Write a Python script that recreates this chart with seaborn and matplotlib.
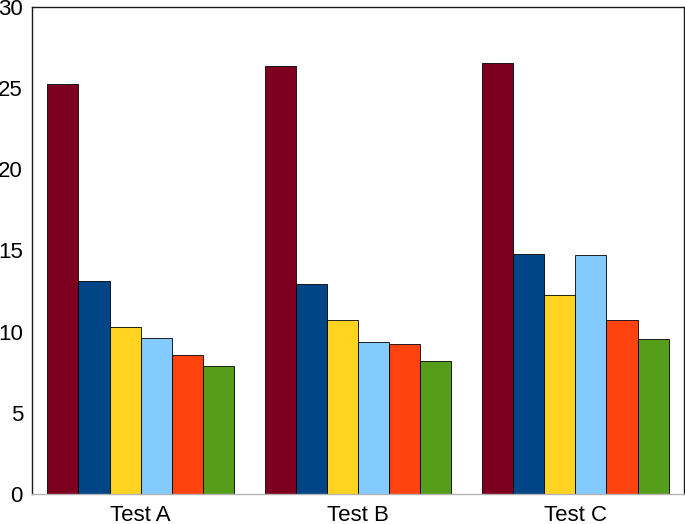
import numpy as np
import pandas as pd
import matplotlib
matplotlib.use("Agg")
import matplotlib.pyplot as plt
import seaborn as sns

# 数据: 三组测试, 每组六个系列
tests = ["Test A", "Test B", "Test C"]
series = ["S1", "S2", "S3", "S4", "S5", "S6"]
test_a = [25.25, 13.1, 10.3, 9.63, 8.58, 7.9]
test_b = [26.35, 12.96, 10.74, 9.38, 9.26, 8.21]
test_c = [26.52, 14.81, 12.28, 14.75, 10.74, 9.57]
colors = ["#7e0021", "#004586", "#ffd320", "#83caff", "#ff420e", "#579d1c"]

rows = []
for t, vals in zip(tests, [test_a, test_b, test_c]):
    for s, v in zip(series, vals):
        rows.append({"test": t, "series": s, "value": v})
df = pd.DataFrame(rows)

sns.set_theme(style="white")
plt.rcParams["font.family"] = ["Liberation Sans", "DejaVu Sans"]

fig = plt.figure(figsize=(6.85, 5.24), dpi=100)
ax = fig.add_axes([32 / 685, 30 / 524, 652 / 685, 487 / 524])

sns.barplot(data=df, x="test", y="value", hue="series", order=tests,
            hue_order=series, palette=colors, width=0.86, gap=0,
            edgecolor="black", linewidth=0.6, saturation=1, ax=ax, legend=False)

ax.set_xlim(-0.5, 2.5)
ax.set_ylim(0, 30)
ax.set_yticks(np.arange(0, 31, 5))
ax.set_xlabel("")
ax.set_ylabel("")

# 底部坐标轴: 浅灰线, 组边界处短刻度
ax.set_xticks([-0.5, 0.5, 1.5, 2.5], minor=True)
ax.tick_params(axis="x", which="major", length=0, labelsize=16, pad=8, colors="black")
ax.tick_params(axis="x", which="minor", length=4, width=1, color="#b3b3b3", direction="out")
ax.tick_params(axis="y", length=0, labelsize=16, pad=6.5, colors="black")

for side in ["left", "top", "right"]:
    ax.spines[side].set_color("#1a1a1a")
    ax.spines[side].set_linewidth(1)
ax.spines["bottom"].set_color("#b3b3b3")
ax.spines["bottom"].set_linewidth(1)

fig.savefig("out.png", dpi=100)
